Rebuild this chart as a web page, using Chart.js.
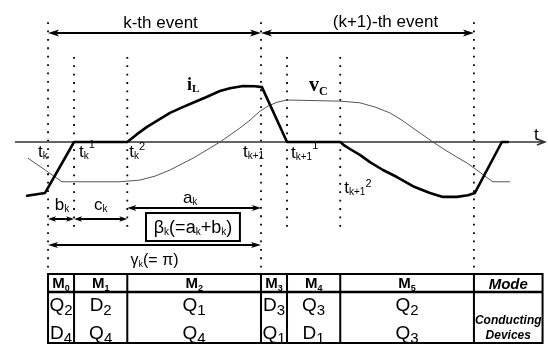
<!DOCTYPE html>
<html>
<head>
<meta charset="utf-8">
<script src="https://cdn.jsdelivr.net/npm/chart.js@4/dist/chart.umd.min.js"></script>
<style>
  html, body { margin: 0; padding: 0; background: #fff; }
  #wrap { width: 548px; height: 345px; }
</style>
</head>
<body>
<div id="wrap"><canvas id="c" width="548" height="345"></canvas></div>
<script>
// Switching instants across the k-th and (k+1)-th events, in electrical degrees from t_k
const switchTimes = [0, 22, 67, 180, 202, 247, 360];
// Right edge of the "Mode" column (degrees)
const modeColumnEnd = 418;

// Inductor current i_L (per unit of its peak)
const iLAngle = [-17.7, -2.5, 22, 67, 75.2, 83.7, 93, 103.1, 112.4, 122.5, 133.5, 145.3, 153.8, 164.8, 174.9, 180.8,
                 202, 247, 251, 255.2, 263.6, 272.1, 283.1, 294.9, 308.4, 322.8, 333.8, 345.6, 354.9, 360.8, 383.6, 388.7];
const iLValue = [-0.96, -0.91, 0, 0, 0.14, 0.27, 0.39, 0.52, 0.61, 0.70, 0.80, 0.91, 0.96, 1.0, 0.995, 0.98,
                 0, 0, -0.07, -0.125, -0.23, -0.36, -0.5, -0.625, -0.79, -0.91, -0.98, -0.98, -0.95, -0.91, 0, 0];

// Capacitor voltage v_C (same per-unit scale)
const vCAngle = [-16.9, -2.5, 11.8, 60.8, 77.7, 90.4, 103.1, 113.2, 122.5, 134.4, 145.3, 153.8, 162.2, 170.7, 179.1,
                 185.9, 193.5, 202, 246.7, 263.6, 276.3, 289, 299.1, 308.4, 316.9, 325.3, 335.5, 345.6, 354.1,
                 362.5, 369.3, 376, 390.4];
const vCValue = [-0.29, -0.5, -0.71, -0.71, -0.68, -0.61, -0.5, -0.39, -0.29, -0.14, 0, 0.125, 0.25, 0.39, 0.55,
                 0.64, 0.71, 0.75, 0.73, 0.70, 0.625, 0.52, 0.39, 0.25, 0.125, 0, -0.14, -0.27, -0.375,
                 -0.5, -0.61, -0.71, -0.71];

// Operating modes and the devices that conduct in each
const modeIndex = ['0', '1', '2', '3', '4', '5'];
const upperDevices = [['Q', '2'], ['D', '2'], ['Q', '1'], ['D', '3'], ['Q', '3'], ['Q', '2']];
const lowerDevices = [['D', '4'], ['Q', '4'], ['Q', '4'], ['Q', '1'], ['D', '1'], ['Q', '3']];

const SANS = '"Liberation Sans", Arial, sans-serif';
const SERIF = '"Liberation Serif", "Times New Roman", serif';

function pairs(xs, ys) { return xs.map((v, i) => ({ x: v, y: ys[i] })); }

// Draw a run of text pieces: [text, font, dy]
function rich(ctx, x, y, parts, align) {
  let w = 0;
  parts.forEach(p => { ctx.font = p[1]; w += ctx.measureText(p[0]).width; });
  let cx = align === 'center' ? x - w / 2 : (align === 'right' ? x - w : x);
  ctx.textAlign = 'left';
  ctx.textBaseline = 'alphabetic';
  parts.forEach(p => {
    ctx.font = p[1];
    ctx.fillText(p[0], cx, y + (p[2] || 0));
    cx += ctx.measureText(p[0]).width;
  });
}

function head(ctx, x, y, dir, len, half) {
  ctx.beginPath();
  ctx.moveTo(x, y);
  ctx.lineTo(x - dir * len, y - half);
  ctx.lineTo(x - dir * len * 0.75, y);
  ctx.lineTo(x - dir * len, y + half);
  ctx.closePath();
  ctx.fill();
}

function doubleArrow(ctx, x1, x2, y, len, half, lw) {
  ctx.lineWidth = lw;
  ctx.beginPath();
  ctx.moveTo(x1 + len * 0.5, y);
  ctx.lineTo(x2 - len * 0.5, y);
  ctx.stroke();
  head(ctx, x1, y, -1, len, half);
  head(ctx, x2, y, 1, len, half);
}

const diagram = {
  id: 'diagram',
  beforeDatasetsDraw(chart) {
    const { ctx, scales: { x, y } } = chart;
    ctx.save();
    // switching-instant markers
    ctx.strokeStyle = '#000';
    ctx.lineWidth = 1.8;
    ctx.setLineDash([1.8, 6.6]);
    switchTimes.forEach((t, i) => {
      const eventEdge = (i === 0 || i === 3 || i === 6);
      const top = eventEdge ? 2.14 : 1.52;
      const bottom = eventEdge ? -2.36 : -1.6;
      const px = x.getPixelForValue(t);
      ctx.beginPath();
      ctx.moveTo(px, y.getPixelForValue(top));
      ctx.lineTo(px, y.getPixelForValue(bottom));
      ctx.stroke();
    });
    ctx.setLineDash([]);
    // time axis
    const y0 = y.getPixelForValue(0);
    const xa = x.getPixelForValue(-28), xb = x.getPixelForValue(420);
    ctx.strokeStyle = '#333';
    ctx.lineWidth = 1.5;
    ctx.beginPath();
    ctx.moveTo(xa, y0);
    ctx.lineTo(xb, y0);
    ctx.moveTo(xb - 8, y0 - 3);
    ctx.lineTo(xb, y0);
    ctx.lineTo(xb - 8, y0 + 3);
    ctx.stroke();
    ctx.restore();
  },
  afterDatasetsDraw(chart) {
    const { ctx, scales: { x, y } } = chart;
    const X = t => x.getPixelForValue(t);
    const Y = v => y.getPixelForValue(v);
    ctx.save();
    ctx.fillStyle = '#000';
    ctx.strokeStyle = '#000';

    const main = `17px ${SANS}`, sub = `10px ${SANS}`, sup = `11px ${SANS}`;
    const y0 = Y(0);

    // axis name
    rich(ctx, X(420) - 11, y0 - 2, [['t', main]], 'left');

    // event spans
    const yEv = Y(1.946);
    doubleArrow(ctx, X(0), X(180), yEv, 11, 3.5, 2);
    doubleArrow(ctx, X(180), X(360), yEv, 11, 3.5, 2);
    rich(ctx, (X(0) + X(180)) / 2 + 6, yEv - 5, [['k-th event', main]], 'center');
    rich(ctx, (X(180) + X(360)) / 2 + 18, yEv - 6, [['(k+1)-th event', main]], 'center');

    // switching instant names
    const base = y0 + 15;
    rich(ctx, X(switchTimes[0]) - 10, base, [['t', main], ['k', sub, 2]]);
    rich(ctx, X(switchTimes[1]) + 5, base, [['t', main], ['k', sub, 2], ['1', sup, -9]]);
    rich(ctx, X(switchTimes[2]) + 2, base, [['t', main], ['k', sub, 2], ['2', sup, -7]]);
    rich(ctx, X(switchTimes[3]) - 18, base, [['t', main], ['k+1', sub, 2]]);
    rich(ctx, X(switchTimes[4]) + 4, base + 1, [['t', main], ['k+1', sub, 2], ['1', sup, -9]]);
    rich(ctx, X(switchTimes[5]) + 4, Y(-0.91), [['t', main], ['k+1', sub, 2], ['2', sup, -6]]);

    // waveform names
    rich(ctx, X(117.5), Y(0.93), [['i', `bold 18px ${SERIF}`], ['L', `bold 11px ${SERIF}`, 2]]);
    rich(ctx, X(220.6), Y(0.91), [['v', `bold 20px ${SERIF}`], ['C', `bold 12px ${SERIF}`, 4]]);

    // interval dimensions
    const yA = Y(-1.179), yBC = Y(-1.375), yG = Y(-1.839);
    doubleArrow(ctx, X(switchTimes[2]), X(switchTimes[3]), yA, 9, 3, 2);
    doubleArrow(ctx, X(switchTimes[0]), X(switchTimes[1]), yBC, 8, 2.8, 2);
    doubleArrow(ctx, X(switchTimes[1]), X(switchTimes[2]), yBC, 8, 2.8, 2);
    doubleArrow(ctx, X(switchTimes[0]), X(switchTimes[3]), yG, 10, 3, 2);
    rich(ctx, (X(switchTimes[0]) + X(switchTimes[1])) / 2 + 1, yBC - 9, [['b', main], ['k', sub, 2]], 'center');
    rich(ctx, (X(switchTimes[1]) + X(switchTimes[2])) / 2, yBC - 9, [['c', main], ['k', sub, 2]], 'center');
    rich(ctx, (X(switchTimes[2]) + X(switchTimes[3])) / 2 - 4, yA - 5, [['a', main], ['k', sub, 2]], 'center');

    // beta box
    const bx1 = X(82.8), bx2 = X(162.2), by1 = Y(-1.268), by2 = Y(-1.768);
    ctx.lineWidth = 2;
    ctx.strokeRect(bx1, by1, bx2 - bx1, by2 - by1);
    const bm = `18px ${SANS}`, bs = `10px ${SANS}`;
    rich(ctx, (bx1 + bx2) / 2, by2 - 8, [['\u03B2', bm], ['k', bs, 2], ['(=a', bm], ['k', bs, 2], ['+b', bm], ['k', bs, 2], [')', bm]], 'center');

    // gamma label
    rich(ctx, (X(switchTimes[0]) + X(switchTimes[3])) / 2, yG + 20,
         [['\u03B3', `16px ${SANS}`], ['k', `9px ${SANS}`, 2], ['(= \u03C0)', `16px ${SANS}`]], 'center');

    // mode table
    const edges = switchTimes.map(X).concat([X(modeColumnEnd)]);
    const tTop = Y(-2.357), tMid = Y(-2.679), tBot = Y(-3.589);
    ctx.lineWidth = 2;
    ctx.beginPath();
    ctx.moveTo(edges[0], tTop); ctx.lineTo(edges[edges.length - 1], tTop);
    ctx.moveTo(edges[0], tBot); ctx.lineTo(edges[edges.length - 1], tBot);
    edges.forEach(e => { ctx.moveTo(e, tTop - 1); ctx.lineTo(e, tBot + 1); });
    ctx.stroke();
    ctx.lineWidth = 2.6;
    ctx.beginPath();
    ctx.moveTo(edges[0], tMid); ctx.lineTo(edges[edges.length - 1], tMid);
    ctx.stroke();

    modeIndex.forEach((m, i) => {
      const cx = (edges[i] + edges[i + 1]) / 2;
      rich(ctx, cx, tTop + 14, [['M', `bold 15px ${SANS}`], [m, `bold 9px ${SANS}`, 3]], 'center');
      const u = upperDevices[i], l = lowerDevices[i];
      rich(ctx, cx, tMid + 19, [[u[0], `19px ${SANS}`], [u[1], `15px ${SANS}`, 4]], 'center');
      rich(ctx, cx, tMid + 47, [[l[0], `19px ${SANS}`], [l[1], `15px ${SANS}`, 4]], 'center');
    });
    const mc = (edges[6] + edges[7]) / 2;
    rich(ctx, mc, tTop + 15, [['Mode', `italic bold 15px ${SANS}`]], 'center');
    rich(ctx, mc, tMid + 32, [['Conducting', `italic bold 12px ${SANS}`]], 'center');
    rich(ctx, mc, tMid + 47, [['Devices', `italic bold 12px ${SANS}`]], 'center');

    ctx.restore();
  }
};

new Chart(document.getElementById('c'), {
  type: 'line',
  data: {
    datasets: [
      { label: 'i_L', data: pairs(iLAngle, iLValue), borderColor: '#000', borderWidth: 2.6,
        pointRadius: 0, tension: 0, borderJoinStyle: 'round', borderCapStyle: 'round' },
      { label: 'v_C', data: pairs(vCAngle, vCValue), borderColor: '#555', borderWidth: 1,
        pointRadius: 0, tension: 0 }
    ]
  },
  options: {
    responsive: false,
    animation: false,
    layout: { padding: 0 },
    plugins: { legend: { display: false }, tooltip: { enabled: false } },
    scales: {
      x: { type: 'linear', min: -40.6, max: 422.6, display: false },
      y: { type: 'linear', min: -3.625, max: 2.536, display: false }
    }
  },
  plugins: [diagram]
});
</script>
</body>
</html>
